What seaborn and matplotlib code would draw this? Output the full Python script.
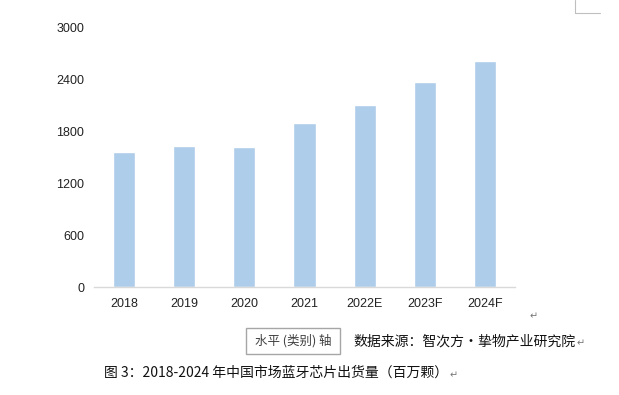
import matplotlib
matplotlib.use("Agg")
import matplotlib.pyplot as plt
import seaborn as sns
import pandas as pd
from matplotlib.lines import Line2D
from matplotlib.patches import Rectangle

years = ["2018", "2019", "2020", "2021", "2022E", "2023F", "2024F"]
shipments = [1564, 1634, 1622, 1900, 2109, 2375, 2619]
y_ticks = [0, 600, 1200, 1800, 2400, 3000]

axis_label = "水平 (类别) 轴"
source = "数据来源：智次方·挚物产业研究院"
caption = "图 3：2018-2024 年中国市场蓝牙芯片出货量（百万颗）"

sns.set_style("white")
plt.rcParams["font.family"] = ["Liberation Sans", "DejaVu Sans"]
cjk = ["Noto Sans CJK SC", "DejaVu Sans"]

df = pd.DataFrame({"year": years, "value": shipments})

W, H = 619, 395
fig = plt.figure(figsize=(W / 100, H / 100), dpi=100)
ax = fig.add_axes([94 / W, 1 - 287 / H, 421 / W, 259 / H])

sns.barplot(data=df, x="year", y="value", color="#AECDEA", saturation=1,
            width=0.37, ax=ax)

ax.set_ylim(0, 3000)
ax.set_xlim(-0.5, len(years) - 0.5)
ax.set_yticks(y_ticks)
ax.set_xlabel("")
ax.set_ylabel("")
ax.tick_params(axis="both", length=0, labelsize=9, colors="#222222")
ax.tick_params(axis="x", pad=8)
ax.tick_params(axis="y", pad=7)
for s in ["top", "right", "left"]:
    ax.spines[s].set_visible(False)
ax.spines["bottom"].set_color("#D9D9D9")
ax.spines["bottom"].set_linewidth(1)

# corner mark at the top right
fig.add_artist(Line2D([575 / W, 575 / W], [1, 1 - 13 / H], color="#BFBFBF", lw=0.8))
fig.add_artist(Line2D([575 / W, 600 / W], [1 - 13 / H, 1 - 13 / H], color="#BFBFBF", lw=0.8))

# axis label box
fig.add_artist(Rectangle((246 / W, 1 - 354 / H), 94 / W, 26 / H, fill=False,
                         edgecolor="#A6A6A6", lw=1))
fig.text(293 / W, 1 - 341 / H, axis_label, fontsize=9, color="#404040",
         family=cjk, ha="center", va="center")

src = fig.text(353 / W, 1 - 341 / H, source, fontsize=10, color="#111111",
               family=cjk, ha="left", va="center")
cap = fig.text(104 / W, 1 - 373 / H, caption, fontsize=10, color="#111111",
               family=cjk, ha="left", va="center")

# paragraph marks
renderer = fig.canvas.get_renderer()
def para_mark(x, y):
    fig.text(x / W, 1 - y / H, "↵", fontsize=7, color="#777777",
             family=["DejaVu Sans"], ha="left", va="center")

para_mark(530, 316)
for t in (src, cap):
    bb = t.get_window_extent(renderer)
    para_mark(bb.x1 + 1, H - (bb.y0 + bb.y1) / 2 + 2)

fig.savefig("out.png", dpi=100)
